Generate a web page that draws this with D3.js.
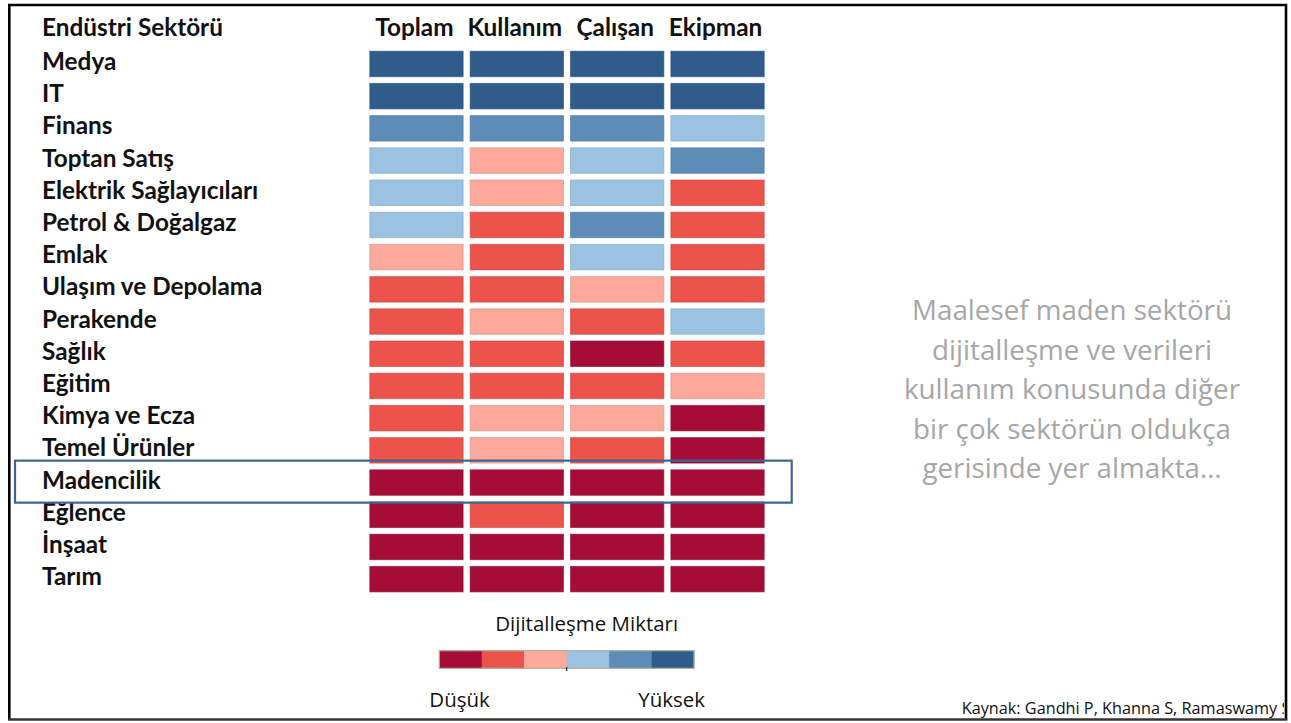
<!DOCTYPE html>
<html>
<head>
<meta charset="utf-8">
<script src="https://cdn.jsdelivr.net/npm/d3@7"></script>
<style>
  html, body { margin: 0; padding: 0; background: #fff; }
  svg { display: block; }
</style>
</head>
<body>
<svg id="chart" width="1291" height="723"></svg>
<script>
// ---- data ----
const sectors = ["Medya", "IT", "Finans", "Toptan Satış", "Elektrik Sağlayıcıları",
  "Petrol & Doğalgaz", "Emlak", "Ulaşım ve Depolama", "Perakende", "Sağlık", "Eğitim",
  "Kimya ve Ecza", "Temel Ürünler", "Madencilik", "Eğlence", "İnşaat", "Tarım"];
const metrics = ["Toplam", "Kullanım", "Çalışan", "Ekipman"];
// digitalization level: 1 = lowest (dark red) ... 6 = highest (dark blue)
const toplam   = [6, 6, 5, 4, 4, 4, 3, 2, 2, 2, 2, 2, 2, 1, 1, 1, 1];
const kullanim = [6, 6, 5, 3, 3, 2, 2, 2, 3, 2, 2, 3, 3, 1, 2, 1, 1];
const calisan  = [6, 6, 5, 4, 4, 5, 4, 3, 2, 1, 2, 3, 2, 1, 1, 1, 1];
const ekipman  = [6, 6, 4, 5, 2, 2, 2, 2, 4, 2, 3, 1, 1, 1, 1, 1, 1];
const levels = [1, 2, 3, 4, 5, 6];
const levelColors = ["#a50d37", "#eb534b", "#fca89b", "#9bc3e1", "#5e8cb8", "#2f5c8a"];
const headerLabel = "Endüstri Sektörü";
const legendTitle = "Dijitalleşme Miktarı";
const legendLow = "Düşük";
const legendHigh = "Yüksek";
const highlighted = "Madencilik";
const noteLines = ["Maalesef maden sektörü", "dijitalleşme ve verileri",
  "kullanım konusunda diğer", "bir çok sektörün oldukça", "gerisinde yer almakta…"];
const sourceText = "Kaynak: Gandhi P, Khanna S, Ramaswamy S";

const seriesByMetric = { "Toplam": toplam, "Kullanım": kullanim, "Çalışan": calisan, "Ekipman": ekipman };
const cells = [];
metrics.forEach(m => sectors.forEach((s, i) => cells.push({ metric: m, sector: s, value: seriesByMetric[m][i] })));

// ---- layout ----
const svg = d3.select("#chart");
const W = 1291, H = 723;
const labelFont = "Lato, 'Open Sans', sans-serif";
const lightFont = "'Open Sans', Lato, sans-serif";

function fitWidth(sel, target) {
  const w = sel.node().getComputedTextLength();
  const fs = parseFloat(sel.attr("font-size"));
  const nf = fs * target / w;
  sel.attr("font-size", nf);
  return nf;
}

const x = d3.scaleBand().domain(metrics).range([369.3, 764.7]).paddingInner(0.06).paddingOuter(0);
const y = d3.scaleBand().domain(sectors).range([50.7, 592.4]).paddingInner(0.177).paddingOuter(0);
const color = d3.scaleOrdinal().domain(levels).range(levelColors);

// header
const hdr = svg.append("text").attr("x", 42).attr("y", 36)
  .attr("font-family", labelFont).attr("font-weight", 700).attr("font-size", 21)
  .attr("fill", "#111").text(headerLabel);
const labelSize = fitWidth(hdr, 181);

// column headers
svg.append("g").selectAll("text").data(metrics).join("text")
  .attr("x", d => x(d) + x.bandwidth() / 2 - 2)
  .attr("y", 36)
  .attr("text-anchor", "middle")
  .attr("font-family", labelFont).attr("font-weight", 700).attr("font-size", labelSize)
  .attr("fill", "#111").text(d => d);

// row labels
svg.append("g").selectAll("text").data(sectors).join("text")
  .attr("x", 42)
  .attr("y", d => y(d) + y.bandwidth() / 2 + 6)
  .attr("font-family", labelFont).attr("font-weight", 700).attr("font-size", labelSize)
  .attr("fill", "#111").text(d => d);

// cells
svg.append("g").selectAll("rect").data(cells).join("rect")
  .attr("x", d => x(d.metric) + 0.5)
  .attr("y", d => y(d.sector) + 0.5)
  .attr("width", x.bandwidth() - 1)
  .attr("height", y.bandwidth() - 1)
  .attr("fill", d => color(d.value))
  .attr("stroke", d => d3.color(color(d.value)).darker(0.5))
  .attr("stroke-opacity", 0.6)
  .attr("stroke-width", 1);

// highlight box
const hy = y(highlighted), hStep = y.step();
svg.append("rect")
  .attr("x", 15)
  .attr("y", hy - (hStep - y.bandwidth()) / 2 - 5.8)
  .attr("width", 791.7 - 15)
  .attr("height", 42)
  .attr("fill", "none")
  .attr("stroke", "#3d6494")
  .attr("stroke-width", 2.2);

// legend
const lx = d3.scaleBand().domain(levels).range([439.3, 694]).padding(0);
const lg = svg.append("g");
lg.selectAll("rect").data(levels).join("rect")
  .attr("x", d => lx(d)).attr("y", 650.7)
  .attr("width", lx.bandwidth() + 0.3).attr("height", 17.6)
  .attr("fill", d => color(d));
lg.append("rect").attr("x", 439.3).attr("y", 650.7).attr("width", 694 - 439.3).attr("height", 17.6)
  .attr("fill", "none").attr("stroke", "#b3aa9b").attr("stroke-width", 1.2);
lg.append("line").attr("x1", lx(4)).attr("x2", lx(4)).attr("y1", 667).attr("y2", 671)
  .attr("stroke", "#222").attr("stroke-width", 1.2);

const lt = svg.append("text").attr("x", 586.7).attr("y", 630.7).attr("text-anchor", "middle")
  .attr("font-family", lightFont).attr("font-size", 18).attr("fill", "#111").text(legendTitle);
const legSize = fitWidth(lt, 183);
svg.append("text").attr("x", 429.3).attr("y", 706.7)
  .attr("font-family", lightFont).attr("font-size", legSize).attr("fill", "#111").text(legendLow);
svg.append("text").attr("x", 705).attr("y", 706.7).attr("text-anchor", "end")
  .attr("font-family", lightFont).attr("font-size", legSize).attr("fill", "#111").text(legendHigh);

// note
const noteG = svg.append("g");
const first = noteG.append("text").attr("x", 1072).attr("y", 320).attr("text-anchor", "middle")
  .attr("font-family", lightFont).attr("font-size", 26).attr("fill", "#a6a6a6").text(noteLines[0]);
const noteSize = fitWidth(first, 320);
noteG.selectAll("text.more").data(noteLines.slice(1)).join("text").attr("class", "more")
  .attr("x", 1072).attr("y", (d, i) => 320 + (i + 1) * 39.5).attr("text-anchor", "middle")
  .attr("font-family", lightFont).attr("font-size", noteSize).attr("fill", "#a6a6a6").text(d => d);

// source (clipped by frame)
svg.append("clipPath").attr("id", "frameClip").append("rect")
  .attr("x", 9).attr("y", 5).attr("width", 1284 - 9).attr("height", 714);
const src = svg.append("text").attr("x", 961.7).attr("y", 714).attr("clip-path", "url(#frameClip)")
  .attr("font-family", lightFont).attr("font-size", 14).attr("fill", "#111").text(sourceText);
fitWidth(src, 329);

// frame
svg.append("path")
  .attr("d", "M9.3,720 L9.3,5 L1286,5 L1286,720")
  .attr("fill", "none").attr("stroke", "#000").attr("stroke-width", 2.6);
svg.append("line").attr("x1", 8).attr("x2", 1287.3).attr("y1", 719.5).attr("y2", 719.5)
  .attr("stroke", "#333").attr("stroke-width", 2.4);
</script>
</body>
</html>
